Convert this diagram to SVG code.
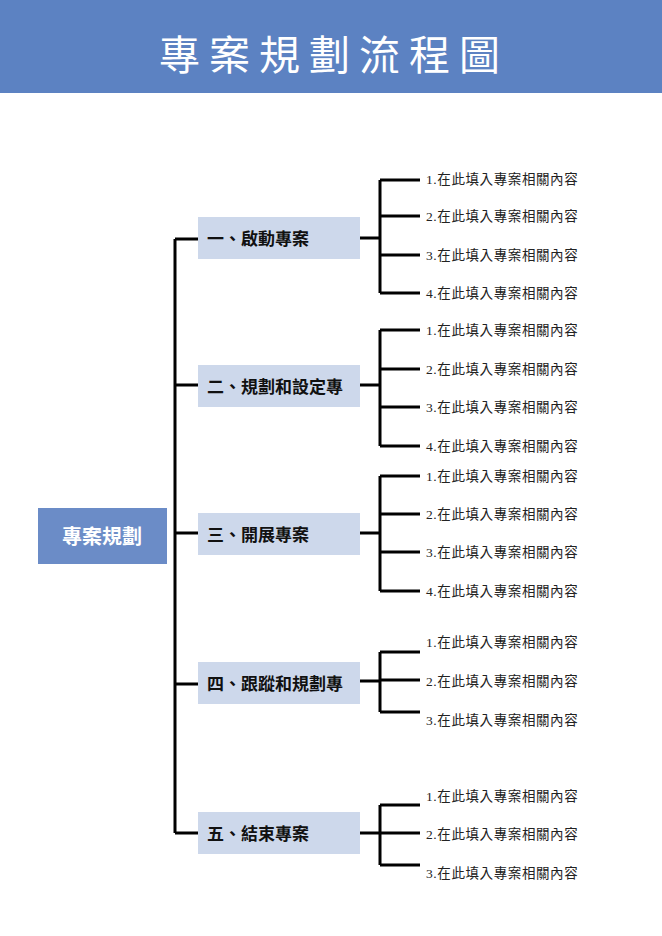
<svg xmlns="http://www.w3.org/2000/svg" width="662" height="936" viewBox="0 0 662 936">
<style>
.t{font-family:"Liberation Serif","Noto Sans CJK TC",serif;font-size:13.5px;letter-spacing:0.6px;fill:#222;dominant-baseline:central}
.b{font-family:"Liberation Serif","Noto Sans CJK TC",serif;font-size:17px;font-weight:bold;fill:#111;dominant-baseline:central}
.box{fill:#cdd8eb}
#conn path{fill:none;stroke:#000;stroke-width:3}
</style>
<rect x="0" y="0" width="662" height="93" fill="#5c82c2"/>
<text x="334" y="52" text-anchor="middle" font-family="Noto Sans CJK TC,sans-serif" font-size="41" fill="#fff" letter-spacing="9" dominant-baseline="central">專案規劃流程圖</text>
<g id="conn">
<path d="M175,239V833M175,239H198M175,385H198M175,533H198M175,684H198M175,833H198"/>
<path d="M360,238H380M380,180V293M380,180H420M380,216H420M380,255H420M380,293H420"/>
<path d="M360,385H380M380,330V446M380,330H420M380,369H420M380,407H420M380,446H420"/>
<path d="M360,533H380M380,476V591M380,476H420M380,514H420M380,552H420M380,591H420"/>
<path d="M360,681H380M380,652V712M380,652H420M380,680H420M380,712H420"/>
<path d="M360,833H380M380,805V865M380,805H420M380,833H420M380,865H420"/>
</g>
<g id="root"><rect x="38" y="508" width="129" height="56" fill="#6b8cc7"/><text x="102" y="537" text-anchor="middle" class="b" style="fill:#fff;font-size:20px">專案規劃</text></g>
<g id="n1"><rect class="box" x="198" y="217" width="162" height="42"/><text class="b" x="207" y="239">一、啟動專案</text></g>
<g id="n2"><rect class="box" x="198" y="365" width="162" height="42"/><text class="b" x="207" y="387">二、規劃和設定專</text></g>
<g id="n3"><rect class="box" x="198" y="513" width="162" height="42"/><text class="b" x="207" y="535">三、開展專案</text></g>
<g id="n4"><rect class="box" x="198" y="662" width="162" height="42"/><text class="b" x="207" y="684">四、跟蹤和規劃專</text></g>
<g id="n5"><rect class="box" x="198" y="812" width="162" height="42"/><text class="b" x="207" y="834">五、結束專案</text></g>
<g id="leaves">
<text class="t" x="426" y="179">1.在此填入專案相關內容</text>
<text class="t" x="426" y="216">2.在此填入專案相關內容</text>
<text class="t" x="426" y="255">3.在此填入專案相關內容</text>
<text class="t" x="426" y="293">4.在此填入專案相關內容</text>
<text class="t" x="426" y="330">1.在此填入專案相關內容</text>
<text class="t" x="426" y="369">2.在此填入專案相關內容</text>
<text class="t" x="426" y="407">3.在此填入專案相關內容</text>
<text class="t" x="426" y="446">4.在此填入專案相關內容</text>
<text class="t" x="426" y="476">1.在此填入專案相關內容</text>
<text class="t" x="426" y="514">2.在此填入專案相關內容</text>
<text class="t" x="426" y="552">3.在此填入專案相關內容</text>
<text class="t" x="426" y="591">4.在此填入專案相關內容</text>
<text class="t" x="426" y="642">1.在此填入專案相關內容</text>
<text class="t" x="426" y="681">2.在此填入專案相關內容</text>
<text class="t" x="426" y="720">3.在此填入專案相關內容</text>
<text class="t" x="426" y="796">1.在此填入專案相關內容</text>
<text class="t" x="426" y="834">2.在此填入專案相關內容</text>
<text class="t" x="426" y="873">3.在此填入專案相關內容</text>
</g>
</svg>
